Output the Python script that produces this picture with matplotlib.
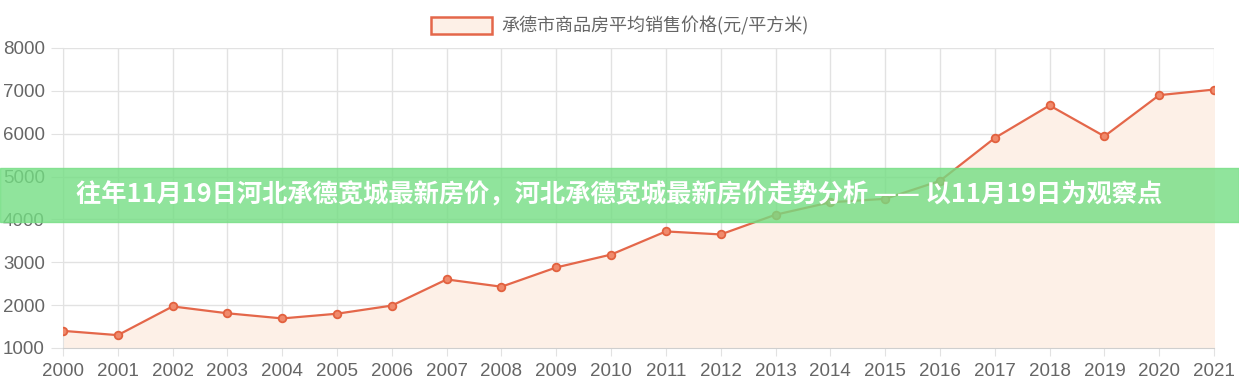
import matplotlib.pyplot as plt
from matplotlib.patches import Patch

plt.rcParams["font.family"] = ["Liberation Sans", "Noto Sans CJK SC", "DejaVu Sans"]

years = [2000, 2001, 2002, 2003, 2004, 2005, 2006, 2007, 2008, 2009, 2010,
         2011, 2012, 2013, 2014, 2015, 2016, 2017, 2018, 2019, 2020, 2021]
price = [1400, 1300, 1970, 1810, 1690, 1800, 1990, 2600, 2430, 2880, 3180,
         3720, 3650, 4110, 4400, 4480, 4900, 5900, 6660, 5940, 6900, 7030]
yticks = [1000, 2000, 3000, 4000, 5000, 6000, 7000, 8000]
series_name = "承德市商品房平均销售价格(元/平方米)"
banner = "往年11月19日河北承德宽城最新房价，河北承德宽城最新房价走势分析 —— 以11月19日为观察点"

line_c = "#e4674a"
fill_c = "#fdf0e7"
grid_c = "#e2e2e2"

fig = plt.figure(figsize=(12.39, 3.9), dpi=100)
ax = fig.add_axes([63 / 1239, 42 / 390, 1151 / 1239, 300 / 390])

ax.fill_between(years, price, 0, color=fill_c, zorder=1)
ax.plot(years, price, color=line_c, lw=1.6, marker="o", ms=5.5,
        mfc="#f08a6c", mec="#e2613f", mew=1.3, zorder=3)

ax.set_xlim(2000, 2021)
ax.set_ylim(1000, 8000)
ax.set_xticks(years)
ax.set_yticks(yticks)
ax.grid(True, color=grid_c, lw=1, zorder=0)
ax.set_axisbelow(True)
for s in ax.spines.values():
    s.set_visible(False)
ax.spines["bottom"].set_visible(True)
ax.spines["bottom"].set_color("#cfcfcf")
ax.spines["left"].set_visible(True)
ax.spines["left"].set_color(grid_c)
ax.tick_params(axis="y", length=9, color=grid_c, pad=4, labelsize=13.5, labelcolor="#666666")
ax.tick_params(axis="x", length=6, color=grid_c, pad=5, labelsize=13.5, labelcolor="#666666")

fig.legend(handles=[Patch(facecolor=fill_c, edgecolor=line_c, lw=1.8)],
           labels=[series_name], loc="upper center", bbox_to_anchor=(0.5, 1.0),
           frameon=False, handlelength=3.4, handleheight=1.05,
           handletextpad=0.5, labelcolor="#666666",
           prop={"family": ["Noto Sans CJK SC", "DejaVu Sans"], "size": 13})

# green banner across the middle
fig.patches.append(plt.Rectangle((0, (390 - 222) / 390), 1, 54 / 390,
                                 transform=fig.transFigure, color=(116 / 255, 222 / 255, 131 / 255),
                                 alpha=0.8, zorder=5))
fig.text(0.5, (390 - 195) / 390, banner, ha="center", va="center", color="white",
         fontsize=18.2, fontweight="heavy", family=["Noto Sans CJK SC", "DejaVu Sans"], zorder=6)

fig.savefig("out.png", dpi=100)
